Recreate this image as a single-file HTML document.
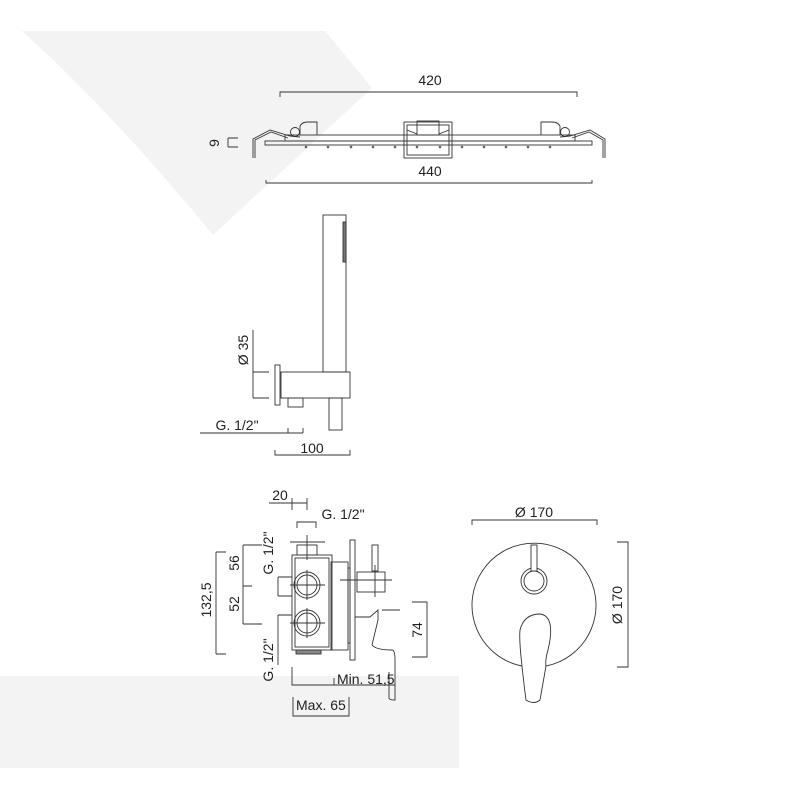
<!DOCTYPE html>
<html><head><meta charset="utf-8"><style>
html,body{margin:0;padding:0;background:#fff;}
svg{display:block;}
text{font-family:"Liberation Sans",sans-serif;fill:#222;}
</style></head><body>
<svg width="800" height="800" viewBox="0 0 800 800" xmlns="http://www.w3.org/2000/svg">
<path d="M22,31 L325,31 L372,88 L213,235 Q110,110 22,31 Z" fill="#f3f3f3"/>
<rect x="0" y="676" width="459" height="92" fill="#f3f3f3"/>

<g stroke="#333" stroke-width="0.9" fill="none">
<path d="M280,97 V92 H577 V97"/>
<path d="M266,180 V183 H592 V180"/>
<path d="M228,138 H238 M228,147 H238 M228,138 V147"/>
<rect x="265" y="141" width="327" height="4"/>
<rect x="285" y="135" width="290" height="6"/>
<path d="M253,158 V139 L270,130 L290,136 L300,137"/>
<path d="M255,158 V140 L271,132 L288,138"/>
<circle cx="295" cy="132" r="4.5"/>
<path d="M300,135 V126 Q302,122 308,122 H317 V135"/>
<path d="M605,158 V139 L590,130 L570,136 L560,137"/>
<path d="M603,158 V140 L589,132 L572,138"/>
<circle cx="565" cy="132" r="4.5"/>
<path d="M560,135 V126 Q558,122 552,122 H541 V135"/>
<rect x="404" y="122" width="48" height="36"/>
<rect x="407" y="125" width="42" height="30"/>
<rect x="417" y="121" width="22" height="14"/>
<path d="M407,130 L417,134 M449,130 L439,134"/>
<g fill="#666" stroke="none">
<circle cx="306" cy="147" r="1.3"/><circle cx="328" cy="147" r="1.3"/><circle cx="351" cy="147" r="1.3"/><circle cx="373" cy="147" r="1.3"/><circle cx="395" cy="147" r="1.3"/><circle cx="417" cy="147" r="1.3"/><circle cx="440" cy="147" r="1.3"/><circle cx="462" cy="147" r="1.3"/><circle cx="484" cy="147" r="1.3"/><circle cx="506" cy="147" r="1.3"/><circle cx="528" cy="147" r="1.3"/><circle cx="550" cy="147" r="1.3"/>
</g>

<rect x="323" y="215" width="23" height="157"/>
<rect x="343" y="222" width="3" height="40" fill="#777"/>
<rect x="281" y="372" width="69" height="26"/>
<rect x="275" y="365" width="5" height="40"/>
<rect x="288" y="398" width="15" height="9"/>
<rect x="329" y="398" width="13" height="32"/>
<path d="M253,330 V398 M253,372 H269 M253,398 H269"/>
<path d="M200,433 H303 M288,428 V433 M303,428 V433"/>
<path d="M275,450 V455 H350 V450"/>

<!-- VALVE SIDE VIEW -->
<path d="M269,503 H307 M292,498 V510 M307,498 V510"/>
<path d="M297,528 V522 H316 V528"/>
<rect x="297" y="545" width="20" height="10"/>
<path d="M290,542 H325 M307,535 V560"/>
<rect x="292" y="555" width="40" height="95"/>
<rect x="295" y="558" width="34" height="89"/>
<rect x="331" y="562" width="17" height="88"/>
<rect x="348" y="568" width="2" height="75"/>
<rect x="350" y="540" width="5" height="120"/>
<circle cx="307" cy="585" r="13"/><circle cx="307" cy="585" r="10"/>
<circle cx="307" cy="623" r="13"/><circle cx="307" cy="623" r="10"/>
<path d="M290,585 H325 M307,570 V600 M290,623 H325 M307,608 V638"/>
<rect x="296" y="650" width="25" height="4" fill="#888"/>
<rect x="372" y="545" width="6" height="26"/>
<rect x="357" y="572" width="28" height="20"/>
<path d="M340,580 H392 M375,565 V597"/>
<path d="M355,617 H370 L378,610 V620 L372,645 Q376,650 392,650 Q395,650 395,660 V700 Q389,700 389,698 V672"/>
<path d="M382,610 L400,610"/>
<!-- left dimension lines -->
<path d="M243,545 H262 M243,545 V624 M243,586 H252 M243,624 H262"/>
<path d="M216,552 V654 M216,552 H226 M216,654 H226"/>
<path d="M278,577 V596 M278,577 H292 M278,596 H292"/>
<path d="M278,615 V665 M278,615 H292"/>
<path d="M292,667 V685 H395 M292,685 V680"/>
<path d="M334,685 V678"/>
<path d="M293,697 V716 H349 V697"/>
<path d="M412,602 H427 V657 H412"/>

<!-- FRONT VIEW -->
<path d="M472,525 V520 H597 V525"/>
<path d="M617,542 H628 V667 H617"/>
<path d="M522,666 A62,62 0 1 1 546,666"/>
<circle cx="534" cy="581" r="13"/>
<circle cx="534" cy="581" r="10"/>
<rect x="531" y="545" width="6" height="26" fill="#fff"/>
<path d="M522,666 Q519,640 520,630 Q524,614 540,614 Q556,616 548,650 Q545,660 546,666 L540,700 Q534,705 526,700 Q524,685 522,666"/>
</g>

<text x="430" y="85" font-size="14" text-anchor="middle">420</text>
<text x="430" y="176" font-size="14" text-anchor="middle">440</text>
<text x="219" y="143" font-size="14" text-anchor="middle" transform="rotate(-90 219 143)">9</text>
<text x="248" y="350" font-size="14" text-anchor="middle" transform="rotate(-90 248 350)">Ø 35</text>
<text x="237" y="430" font-size="14" text-anchor="middle">G. 1/2"</text>
<text x="312" y="453" font-size="14" text-anchor="middle">100</text>
<text x="280" y="500" font-size="14" text-anchor="middle">20</text>
<text x="343" y="519" font-size="14" text-anchor="middle">G. 1/2"</text>
<text x="273" y="553" font-size="14" text-anchor="middle" transform="rotate(-90 273 553)">G. 1/2"</text>
<text x="273" y="660" font-size="14" text-anchor="middle" transform="rotate(-90 273 660)">G. 1/2"</text>
<text x="239" y="563" font-size="14" text-anchor="middle" transform="rotate(-90 239 563)">56</text>
<text x="239" y="604" font-size="14" text-anchor="middle" transform="rotate(-90 239 604)">52</text>
<text x="211" y="600" font-size="14" text-anchor="middle" transform="rotate(-90 211 600)">132,5</text>
<text x="422" y="630" font-size="14" text-anchor="middle" transform="rotate(-90 422 630)">74</text>
<text x="337" y="684" font-size="14">Min. 51,5</text>
<text x="296" y="710" font-size="14">Max. 65</text>
<text x="534" y="517" font-size="14" text-anchor="middle">Ø 170</text>
<text x="622" y="605" font-size="14" text-anchor="middle" transform="rotate(-90 622 605)">Ø 170</text>
</svg>
</body></html>
